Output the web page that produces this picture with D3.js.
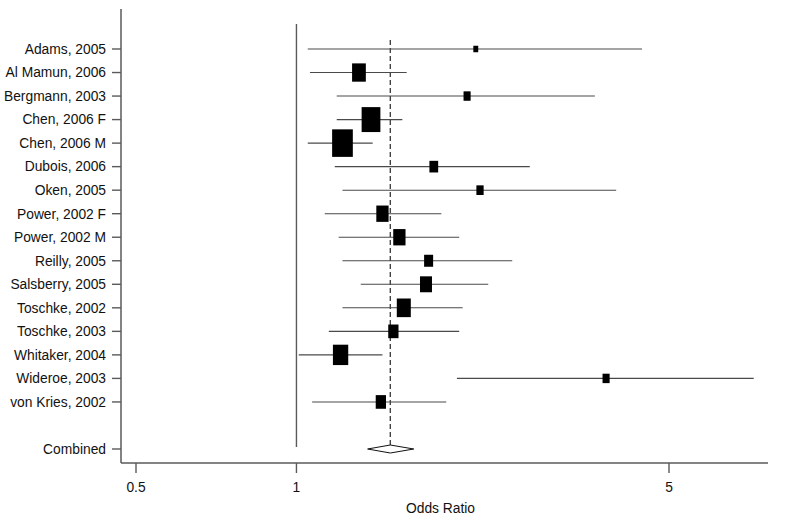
<!DOCTYPE html>
<html>
<head>
<meta charset="utf-8">
<script src="https://cdn.jsdelivr.net/npm/d3@7"></script>
<style>
  body { margin: 0; background: #fff; }
  text { font-family: "Liberation Sans", Arial, Helvetica, sans-serif; fill: #111; }
</style>
</head>
<body>
<svg width="800" height="523"></svg>
<script>
const studies = ['Adams, 2005', 'Al Mamun, 2006', 'Bergmann, 2003', 'Chen, 2006 F', 'Chen, 2006 M',
  'Dubois, 2006', 'Oken, 2005', 'Power, 2002 F', 'Power, 2002 M', 'Reilly, 2005', 'Salsberry, 2005',
  'Toschke, 2002', 'Toschke, 2003', 'Whitaker, 2004', 'Wideroe, 2003', 'von Kries, 2002'];
const oddsRatio = [2.17, 1.31, 2.09, 1.38, 1.22, 1.81, 2.21, 1.45, 1.56, 1.77, 1.75, 1.59, 1.52, 1.21, 3.81, 1.44];
const lowerCI = [1.05, 1.06, 1.19, 1.19, 1.05, 1.18, 1.22, 1.13, 1.20, 1.22, 1.32, 1.22, 1.15, 1.01, 2.00, 1.07];
const upperCI = [4.45, 1.61, 3.63, 1.58, 1.39, 2.74, 3.98, 1.87, 2.02, 2.54, 2.29, 2.05, 2.02, 1.45, 7.21, 1.91];
const weights = [1.0, 7.9, 2.1, 14.7, 17.9, 3.2, 2.2, 6.3, 6.3, 3.4, 6.0, 8.2, 4.4, 9.8, 2.1, 4.4];

const combinedLabel = 'Combined';
const combined = [1.36, 1.50, 1.66]; // lower, estimate, upper

const xTicks = [0.5, 1, 5];
const xTitle = 'Odds Ratio';

const axisLeft = 121;
const axisRight = 768;
const axisTop = 9;
const axisBottom = 463;
const boxAspect = 1.33;

const svg = d3.select('svg');

const x = d3.scaleLog()
  .domain([0.5, 5])
  .range([136, 669]);

// row index -> y, combined sits two rows below the last study
const y = d3.scaleLinear()
  .domain([0, studies.length + 1])
  .range([49, 449]);

const boxW = d3.scaleSqrt()
  .domain([0, d3.max(weights)])
  .range([0, 20.7]);

const rows = studies.map((s, i) => ({
  name: s, or: oddsRatio[i], lo: lowerCI[i], hi: upperCI[i], w: weights[i], i
}));

const axisColor = '#5a5a5a';

// reference line at 1
svg.append('line')
  .attr('x1', x(1)).attr('x2', x(1))
  .attr('y1', 24).attr('y2', 447)
  .style('stroke', axisColor)
  .style('stroke-width', 1.4);

// dashed line at combined estimate
svg.append('line')
  .attr('x1', x(combined[1])).attr('x2', x(combined[1]))
  .attr('y1', 40).attr('y2', y(studies.length + 1) - 4)
  .style('stroke', '#444')
  .style('stroke-width', 1.4)
  .style('stroke-dasharray', '5,3');

// confidence intervals
svg.selectAll('.ci')
  .data(rows)
  .enter()
  .append('line')
  .attr('class', 'ci')
  .attr('x1', d => x(d.lo))
  .attr('x2', d => x(d.hi))
  .attr('y1', d => y(d.i))
  .attr('y2', d => y(d.i))
  .style('stroke', '#4a4a4a')
  .style('stroke-width', 1.1);

// weight boxes
svg.selectAll('.box')
  .data(rows)
  .enter()
  .append('rect')
  .attr('class', 'box')
  .attr('x', d => x(d.or) - boxW(d.w) / 2)
  .attr('y', d => y(d.i) - boxW(d.w) * boxAspect / 2)
  .attr('width', d => boxW(d.w))
  .attr('height', d => boxW(d.w) * boxAspect)
  .style('fill', '#000');

// combined diamond
const cy = y(studies.length + 1);
svg.append('path')
  .attr('d', d3.line()([
    [x(combined[0]), cy],
    [x(combined[1]), cy - 4],
    [x(combined[2]), cy],
    [x(combined[1]), cy + 4]
  ]) + 'Z')
  .style('fill', '#fff')
  .style('stroke', '#111')
  .style('stroke-width', 1);

// left axis
svg.append('line')
  .attr('x1', axisLeft).attr('x2', axisLeft)
  .attr('y1', axisTop).attr('y2', axisBottom)
  .style('stroke', axisColor)
  .style('stroke-width', 1.5);

const labels = rows.map(d => ({ name: d.name, i: d.i }))
  .concat([{ name: combinedLabel, i: studies.length + 1 }]);

const yTick = svg.selectAll('.ytick')
  .data(labels)
  .enter()
  .append('g')
  .attr('class', 'ytick')
  .attr('transform', d => `translate(${axisLeft},${y(d.i)})`);

yTick.append('line')
  .attr('x1', -9).attr('x2', 0)
  .style('stroke', axisColor)
  .style('stroke-width', 1.4);

yTick.append('text')
  .attr('x', -15)
  .attr('dy', '0.35em')
  .attr('text-anchor', 'end')
  .style('font-size', '13.8px')
  .text(d => d.name);

// bottom axis
svg.append('line')
  .attr('x1', axisLeft).attr('x2', axisRight)
  .attr('y1', axisBottom).attr('y2', axisBottom)
  .style('stroke', axisColor)
  .style('stroke-width', 1.5);

const xTick = svg.selectAll('.xtick')
  .data(xTicks)
  .enter()
  .append('g')
  .attr('class', 'xtick')
  .attr('transform', d => `translate(${x(d)},${axisBottom})`);

xTick.append('line')
  .attr('y1', 0).attr('y2', 10)
  .style('stroke', axisColor)
  .style('stroke-width', 1.4);

xTick.append('text')
  .attr('y', 29)
  .attr('text-anchor', 'middle')
  .style('font-size', '13.8px')
  .text(d => d);

svg.append('text')
  .attr('x', (axisLeft + axisRight) / 2 - 4)
  .attr('y', 513)
  .attr('text-anchor', 'middle')
  .style('font-size', '13.8px')
  .text(xTitle);
</script>
</body>
</html>
